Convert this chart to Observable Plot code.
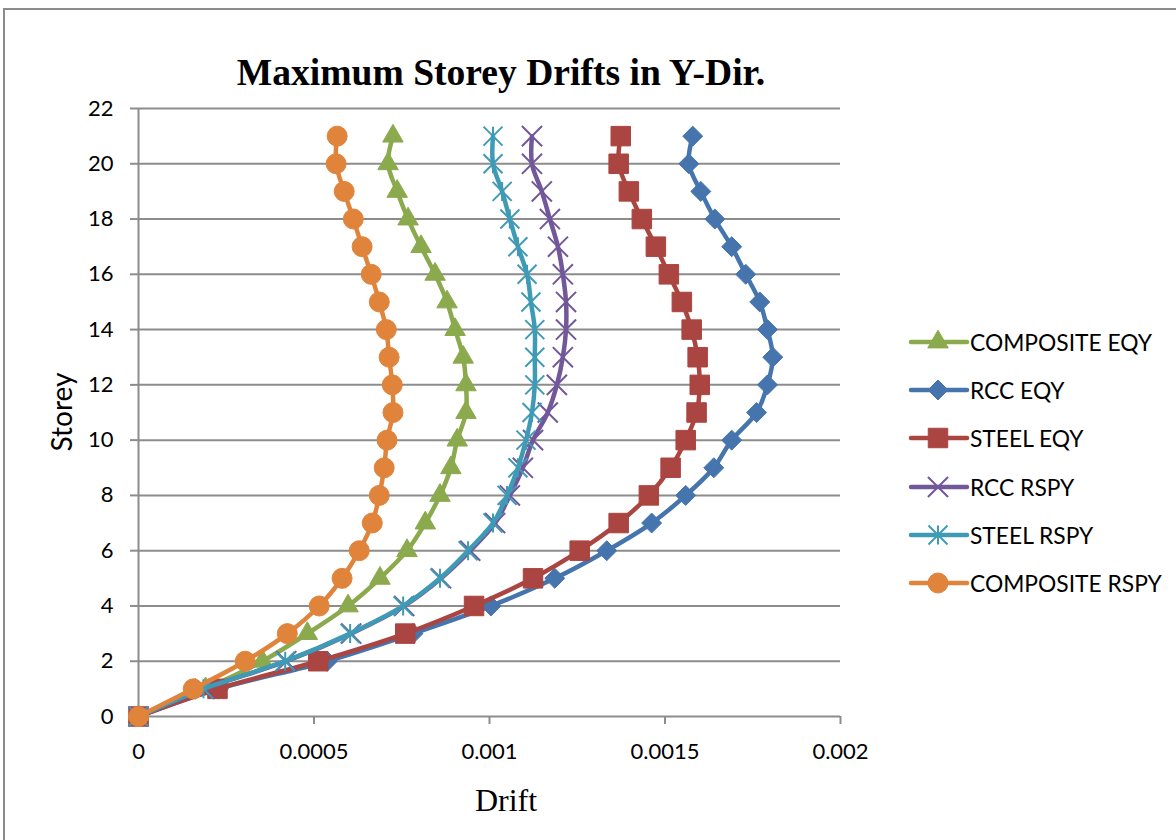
<!DOCTYPE html>
<html>
<head>
<meta charset="utf-8">
<script src="https://cdn.jsdelivr.net/npm/d3@7"></script>
<script src="https://cdn.jsdelivr.net/npm/@observablehq/plot@0.6"></script>
<style>
  html, body { margin: 0; padding: 0; background: #fff; }
  #chart { position: relative; width: 1176px; height: 840px; overflow: hidden; font-family: Lato, sans-serif; color: #000; }
  #frame { position: absolute; left: 3px; top: 8px; width: 1220px; height: 900px; border: 2px solid #8c8c8c; box-sizing: border-box; }
  #plot { position: absolute; left: 0; top: 0; }
  #title { position: absolute; left: 0; width: 1002px; top: 54px; text-align: center; font: bold 37.6px/37px "Liberation Serif", serif; white-space: nowrap; }
  #xlabel { position: absolute; left: 406px; width: 200px; top: 784px; text-align: center; font: 32px/32px "Liberation Serif", serif; }
  #ylabel { position: absolute; left: 62px; top: 412px; transform: translate(-50%, -50%) rotate(-90deg); font: 28px/1.2 Lato, sans-serif; white-space: nowrap; }
  .legend-row { position: absolute; left: 908px; height: 24px; display: flex; align-items: center; font: 22.8px/24px Lato, sans-serif; white-space: nowrap; }
  .legend-row svg { display: block; margin-right: 0; }
</style>
</head>
<body>
<div id="chart">
  <div id="frame"></div>
  <div id="plot"></div>
  <div id="title">Maximum Storey Drifts in Y-Dir.</div>
  <div id="xlabel">Drift</div>
  <div id="ylabel">Storey</div>
  <div id="legend"></div>
</div>
<script>
// Storey levels (ground = 0)
const storeys = [0, 1, 2, 3, 4, 5, 6, 7, 8, 9, 10, 11, 12, 13, 14, 15, 16, 17, 18, 19, 20, 21];

// Maximum storey drift in Y direction for each storey, per structure / analysis
const compositeEqy  = [0, 0.000191, 0.000353, 0.000481, 0.000597, 0.000688, 0.000765, 0.000817, 0.000859, 0.000890, 0.000908, 0.000933, 0.000933, 0.000925, 0.000902, 0.000879, 0.000845, 0.000805, 0.000768, 0.000737, 0.000711, 0.000725];
const rccEqy        = [0, 0.000228, 0.000538, 0.000782, 0.001004, 0.001186, 0.001334, 0.001462, 0.001559, 0.001639, 0.001690, 0.001761, 0.001792, 0.001807, 0.001792, 0.001770, 0.001730, 0.001690, 0.001642, 0.001602, 0.001568, 0.001579];
const steelEqy      = [0, 0.000225, 0.000512, 0.000760, 0.000956, 0.001124, 0.001257, 0.001368, 0.001454, 0.001516, 0.001559, 0.001590, 0.001599, 0.001593, 0.001576, 0.001548, 0.001511, 0.001474, 0.001434, 0.001397, 0.001368, 0.001374];
const rccRspy       = [0, 0.000188, 0.000421, 0.000606, 0.000757, 0.000862, 0.000945, 0.001016, 0.001058, 0.001095, 0.001124, 0.001166, 0.001192, 0.001209, 0.001218, 0.001218, 0.001209, 0.001195, 0.001172, 0.001149, 0.001121, 0.001121];
const steelRspy     = [0, 0.000185, 0.000418, 0.000603, 0.000754, 0.000859, 0.000939, 0.001010, 0.001050, 0.001081, 0.001104, 0.001121, 0.001129, 0.001129, 0.001129, 0.001118, 0.001107, 0.001081, 0.001058, 0.001036, 0.001010, 0.001010];
const compositeRspy = [0, 0.000156, 0.000304, 0.000424, 0.000515, 0.000580, 0.000629, 0.000666, 0.000686, 0.000700, 0.000708, 0.000725, 0.000723, 0.000714, 0.000706, 0.000686, 0.000663, 0.000637, 0.000612, 0.000586, 0.000563, 0.000566];

// Axis ticks
const xTicks = [0, 0.0005, 0.001, 0.0015, 0.002];
const yTicks = [0, 2, 4, 6, 8, 10, 12, 14, 16, 18, 20, 22];

// Six-armed asterisk: an X with a vertical bar
const symbolStarX = {
  draw(context, size) {
    const h = Math.sqrt(size / Math.PI);
    context.moveTo(-h, -h); context.lineTo(h, h);
    context.moveTo(-h, h); context.lineTo(h, -h);
    context.moveTo(0, -h); context.lineTo(0, h);
  }
};

// Series in drawing / legend order
const series = [
  {name: "COMPOSITE EQY",  values: compositeEqy,  color: "#8BAA4D", symbol: d3.symbolTriangle, r: 7.6, filled: true},
  {name: "RCC EQY",        values: rccEqy,        color: "#4675AE", symbol: d3.symbolDiamond2, r: 9,   filled: true},
  {name: "STEEL EQY",      values: steelEqy,      color: "#AA4541", symbol: d3.symbolSquare,   r: 11,  filled: true},
  {name: "RCC RSPY",       values: rccRspy,       color: "#72579A", symbol: d3.symbolTimes,    r: 9.2, filled: false},
  {name: "STEEL RSPY",     values: steelRspy,     color: "#3F9BB5", symbol: symbolStarX,       r: 9.5, filled: false},
  {name: "COMPOSITE RSPY", values: compositeRspy, color: "#E0843C", symbol: d3.symbolCircle,   r: 10,  filled: true}
];

const gray = "#8c8c8c";

const seriesMarks = series.flatMap(s => {
  const rows = storeys.map((st, i) => ({storey: st, drift: s.values[i]}));
  return [
    Plot.line(rows, {x: "drift", y: "storey", stroke: s.color, strokeWidth: 4.5, curve: "catmull-rom", strokeLinejoin: "round", strokeLinecap: "round"}),
    Plot.dot(rows, {
      x: "drift", y: "storey", symbol: s.symbol, r: s.r,
      fill: s.filled ? s.color : "none",
      stroke: s.color,
      strokeWidth: s.filled ? 1 : 2
    })
  ];
});

const chart = Plot.plot({
  width: 1176,
  height: 840,
  marginLeft: 138,
  marginRight: 336,
  marginTop: 108,
  marginBottom: 124,
  style: {fontFamily: "Lato, sans-serif", fontSize: "22px", color: "#000", background: "transparent", overflow: "visible"},
  x: {domain: [0, 0.002], label: null},
  y: {domain: [0, 22], label: null},
  marks: [
    Plot.gridY(yTicks, {stroke: gray, strokeOpacity: 1, strokeWidth: 2}),
    Plot.ruleX([0], {stroke: gray, strokeWidth: 2}),
    Plot.axisY(yTicks, {tickSize: 8, tickPadding: 17, stroke: gray, strokeWidth: 2, label: null}),
    Plot.axisX(xTicks, {tickSize: 8, tickPadding: 19, stroke: gray, strokeWidth: 2, tickFormat: d => String(d), label: null}),
    ...seriesMarks
  ]
});
document.getElementById("plot").appendChild(chart);

// Legend rows: line with marker, then the series name
const legend = document.getElementById("legend");
const legendTop = 342;
const legendStep = 48.2;
series.forEach((s, i) => {
  const row = document.createElement("div");
  row.className = "legend-row";
  row.style.top = (legendTop + i * legendStep - 12) + "px";
  const svg = d3.create("svg").attr("width", 62).attr("height", 24);
  svg.append("line").attr("x1", 3).attr("x2", 59).attr("y1", 12).attr("y2", 12)
    .attr("stroke", s.color).attr("stroke-width", 4.5).attr("stroke-linecap", "round");
  svg.append("path")
    .attr("transform", "translate(30,12)")
    .attr("d", d3.symbol(s.symbol, Math.PI * s.r * s.r)())
    .attr("fill", s.filled ? s.color : "none")
    .attr("stroke", s.color)
    .attr("stroke-width", s.filled ? 1 : 2);
  row.appendChild(svg.node());
  const label = document.createElement("span");
  label.textContent = s.name;
  row.appendChild(label);
  legend.appendChild(row);
});
</script>
</body>
</html>
